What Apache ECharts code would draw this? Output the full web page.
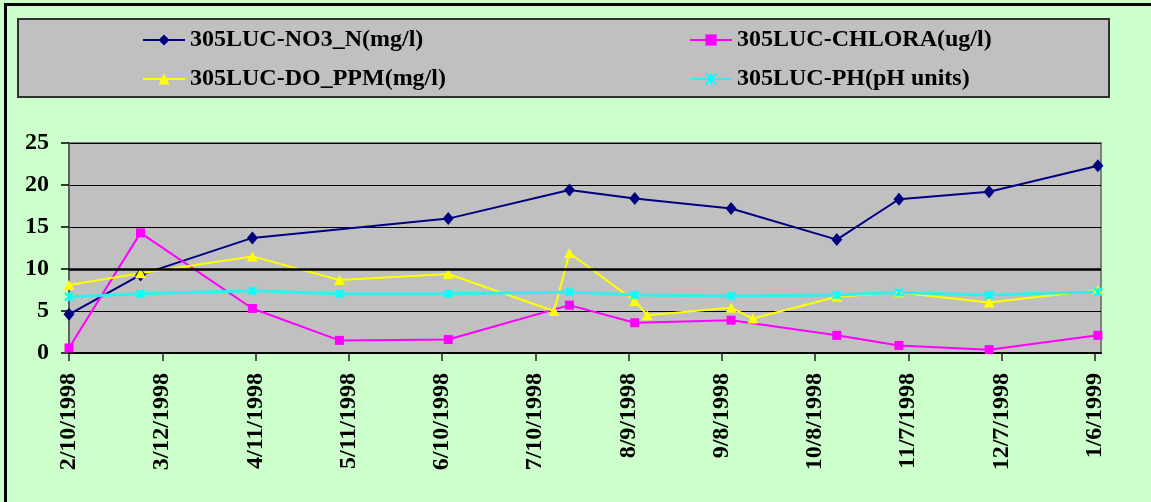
<!DOCTYPE html>
<html>
<head>
<meta charset="utf-8">
<script src="https://cdn.jsdelivr.net/npm/echarts@6/dist/echarts.min.js"></script>
<style>
  html, body { margin: 0; padding: 0; background: #CCFFCC; }
  #chart { width: 1151px; height: 502px; }
</style>
</head>
<body>
<div id="chart"></div>
<script>
// ---- data ----
const seriesNames = ['305LUC-NO3_N(mg/l)', '305LUC-CHLORA(ug/l)', '305LUC-DO_PPM(mg/l)', '305LUC-PH(pH units)'];
const sampleDates = ['1998-02-10','1998-03-05','1998-04-10','1998-05-08','1998-06-12','1998-07-16','1998-07-21',
                     '1998-08-11','1998-08-15','1998-09-11','1998-09-18','1998-10-15','1998-11-04','1998-12-03','1999-01-07'];
const no3    = [4.6, 9.3, 13.7, null, 16.0, null, 19.4, 18.4, null, 17.2, null, 13.5, 18.3, 19.2, 22.3];
const chlora = [0.6, 14.3, 5.3, 1.5, 1.6, null, 5.7, 3.6, null, 3.9, null, 2.1, 0.9, 0.4, 2.1];
const doPpm  = [8.1, 9.5, 11.5, 8.7, 9.4, 5.0, 11.9, 6.2, 4.5, 5.4, 4.1, 6.7, 7.2, 6.0, 7.5];
const ph     = [6.7, 7.05, 7.4, 7.05, 7.05, null, 7.25, 6.9, null, 6.8, null, 6.9, 7.2, 6.9, 7.3];
const tickDays = [0, 30, 60, 90, 120, 150, 180, 210, 240, 270, 300, 330];
const yTicks = [0, 5, 10, 15, 20, 25];

const BASE = Date.UTC(1998, 1, 10);
const DAY = 86400000;
function dayOf(s) { const p = s.split('-').map(Number); return (Date.UTC(p[0], p[1]-1, p[2]) - BASE) / DAY; }
function fmtDay(d) { const t = new Date(BASE + d * DAY); return (t.getUTCMonth()+1) + '/' + t.getUTCDate() + '/' + t.getUTCFullYear(); }
function pairs(vals) { return sampleDates.map((s, i) => [dayOf(s), vals[i]]); }

const FONT = 'Liberation Serif';
const chart = echarts.init(document.getElementById('chart'), null, { renderer: 'canvas' });

const legendText = { fontFamily: FONT, fontSize: 24, fontWeight: 'bold', color: '#000', lineHeight: 24 };
const common = { type: 'line', connectNulls: true, z: 3 };
chart.setOption({
  backgroundColor: '#CCFFCC',
  animation: false,
  graphic: [
    { type: 'rect', shape: { x: 18, y: 19, width: 1091, height: 78 }, style: { fill: '#C0C0C0', stroke: '#303030', lineWidth: 2 }, z: -1 },
    { type: 'line', shape: { x1: 4, y1: 4.5, x2: 1151, y2: 4.5 }, style: { stroke: '#000', lineWidth: 3 } },
    { type: 'line', shape: { x1: 5.5, y1: 3, x2: 5.5, y2: 502 }, style: { stroke: '#000', lineWidth: 3 } }
  ],
  legend: [
    { data: [seriesNames[0], seriesNames[2]], orient: 'vertical', left: 142, top: 28, padding: 0, itemWidth: 42, itemHeight: 14, itemGap: 15,
      textStyle: legendText },
    { data: [seriesNames[1], seriesNames[3]], orient: 'vertical', left: 689, top: 28, padding: 0, itemWidth: 42, itemHeight: 14, itemGap: 15,
      textStyle: legendText }
  ],
  grid: { left: 69, right: 50, top: 143, bottom: 149, show: true, backgroundColor: '#C0C0C0', borderColor: '#808080', borderWidth: 2 },
  xAxis: {
    type: 'value', min: 0, max: 332,
    splitLine: { show: false },
    axisLine: { lineStyle: { color: '#000', width: 2 } },
    axisTick: { customValues: tickDays, length: 8, lineStyle: { color: '#222', width: 1.5 } },
    axisLabel: { customValues: tickDays, formatter: v => fmtDay(v), rotate: 90, margin: 20,
      fontFamily: FONT, fontSize: 24, fontWeight: 'bold', color: '#000' }
  },
  yAxis: {
    type: 'value', min: 0, max: 25, interval: 5,
    axisLine: { show: true, lineStyle: { color: '#606060', width: 2 } },
    axisTick: { show: true, length: 8, lineStyle: { color: '#000', width: 1.5 } },
    splitLine: { lineStyle: { color: '#000', width: 1.2 } },
    axisLabel: { margin: 20, fontFamily: FONT, fontSize: 24, fontWeight: 'bold', color: '#000',
      customValues: yTicks }
  },
  series: [
    Object.assign({}, common, { name: seriesNames[0], data: pairs(no3), symbol: 'diamond', symbolSize: [11, 13],
      lineStyle: { color: '#000080', width: 2 }, itemStyle: { color: '#000080' },
      markLine: { silent: true, symbol: 'none', label: { show: false }, lineStyle: { color: '#000', width: 2.5, type: 'solid' }, data: [{ yAxis: 10 }] } }),
    Object.assign({}, common, { name: seriesNames[1], data: pairs(chlora), symbol: 'rect', symbolSize: 9,
      lineStyle: { color: '#FF00FF', width: 2 }, itemStyle: { color: '#FF00FF' } }),
    Object.assign({}, common, { name: seriesNames[2], data: pairs(doPpm), symbol: 'triangle', symbolSize: [11, 10],
      lineStyle: { color: '#FFFF00', width: 2 }, itemStyle: { color: '#FFFF00' } }),
    Object.assign({}, common, { name: seriesNames[3], data: pairs(ph), symbol: 'path://M0 0L10 10M10 0L0 10M5 0L5 10', symbolSize: 8,
      lineStyle: { color: '#33EEEE', width: 3 }, itemStyle: { color: 'rgba(0,0,0,0)', borderColor: '#00FFFF', borderWidth: 2 } })
  ]
});
</script>
</body>
</html>
